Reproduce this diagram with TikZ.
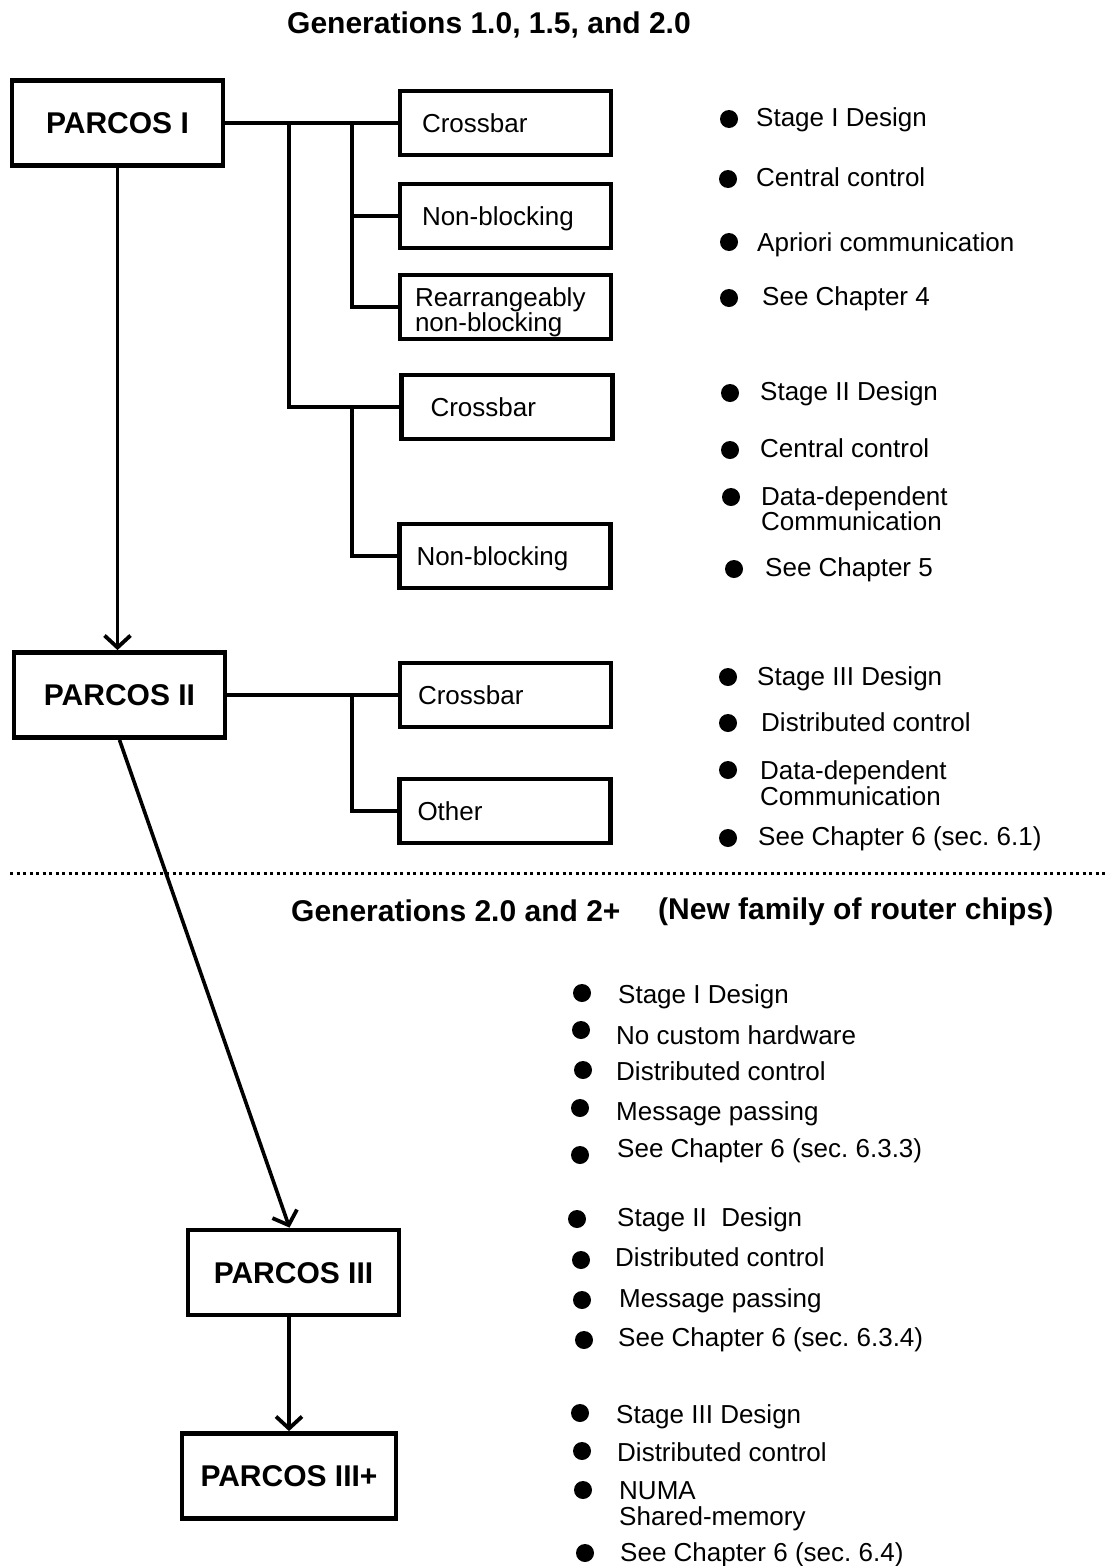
\documentclass[tikz,border=0pt]{standalone}
\usepackage{fontspec}
\setmainfont{Liberation Sans}
\usetikzlibrary{arrows.meta,calc}
\frenchspacing
% bullet item: name, dot x, dot y, text x, cap-centre y, text
\newcommand\bitem[6]{%
  \node[bulletdot] (#1d) at (#2,#3) {};
  \node[itemtext] (#1) at (#4,{#5+9.3}) {#6};}
\begin{document}
\begin{tikzpicture}[x=1pt,y=-1pt,
  headtext/.style={anchor=base west, inner sep=0pt, font=\bfseries\fontsize{30}{30}\selectfont},
  mainbox/.style={draw, line width=4.8pt, minimum width=211pt, minimum height=85pt,
    inner sep=0pt, font=\bfseries\fontsize{30}{30}\selectfont, text height=21.5pt, text depth=0pt},
  subbox/.style={draw, line width=4.8pt, minimum height=64pt, text width=167pt,
    inner xsep=22pt, inner ysep=0pt, align=left, font=\fontsize{26}{24}\selectfont,
    text height=18.7pt, text depth=0pt},
  linkline/.style={line width=3.6pt, line join=miter},
  arrowline/.style={line width=3.6pt, -{Straight Barb[length=12pt,width=26pt,line width=3.8pt]}},
  itemtext/.style={anchor=base west, inner sep=0pt, font=\fontsize{26}{25}\selectfont},
  bulletdot/.style={fill, circle, minimum size=18pt, inner sep=0pt}]
\useasboundingbox (0,0) rectangle (1106,1566);

% ---------- upper part: generations 1.0, 1.5, 2.0 ----------
\node[headtext] (title1) at (287,33) {Generations 1.0, 1.5, and 2.0};

\node[mainbox] (p1) at (117.5,123) {PARCOS I};
\node[subbox] (cb1) at (505.5,123) {Crossbar};
\node[subbox] (nb1) at (505.5,216) {Non-blocking};
\node[subbox, inner xsep=15pt, text width=181pt, text height=18.7pt, text depth=20pt] (rb) at (505.5,307) {Rearrangeably\\non-blocking};
\node[subbox, inner xsep=29pt, text width=153pt] (cb2) at (507,407) {Crossbar};
\node[subbox, inner xsep=17pt, text width=177pt] (nb2) at (505,556) {Non-blocking};

\coordinate (j1) at (289,123);
\coordinate (j2) at (352,123);
\coordinate (j3) at (352,407);
\draw[linkline] (p1.east) -- (cb1.west);
\draw[linkline] (j1) |- (cb2.west);
\draw[linkline] (j2) |- (nb1.west);
\draw[linkline] (j2) |- (rb.west);
\draw[linkline] (j3) |- (nb2.west);

\node[mainbox] (p2) at (119.5,695) {PARCOS II};
\node[subbox, inner xsep=18pt, text width=175pt] (cb3) at (505.5,695) {Crossbar};
\node[subbox, inner xsep=18pt, text width=175pt] (oth) at (505,811) {Other};
\coordinate (j4) at (352,695);
\draw[linkline] (p2.east) -- (cb3.west);
\draw[linkline] (j4) |- (oth.west);

\draw[arrowline] (p1.south) -- (p1.south |- p2.north);

\bitem{a1}{729}{119}{756}{117}{Stage I Design}
\bitem{a2}{728}{179}{756}{177}{Central control}
\bitem{a3}{729}{242}{757}{242}{Apriori communication}
\bitem{a4}{729}{298}{762}{296}{See Chapter 4}

\bitem{b1}{730}{393}{760}{391}{Stage II Design}
\bitem{b2}{730}{450}{760}{448}{Central control}
\bitem{b3}{731}{497}{761}{496}{Data-dependent}
\node[itemtext] (b3b) at (761,{521+9.3}) {Communication};
\bitem{b4}{734}{569}{765}{567}{See Chapter 5}

\bitem{c1}{728}{677}{757}{676}{Stage III Design}
\bitem{c2}{728}{723}{761}{722}{Distributed control}
\bitem{c3}{728}{770}{760}{770}{Data-dependent}
\node[itemtext] (c3b) at (760,{796+9.3}) {Communication};
\bitem{c4}{728}{838}{758}{836}{See Chapter 6 (sec. 6.1)}

% ---------- separator ----------
\draw[line width=3pt, dash pattern=on 3pt off 3.5pt] (10,873) -- (1106,873);

% ---------- lower part: generations 2.0 and 2+ ----------
\node[headtext] (title2) at (291,921) {Generations 2.0 and 2+};
\node[headtext] (title3) at (658,919) {(New family of router chips)};

\node[mainbox] (p3) at (293.5,1272.5) {PARCOS III};
\node[mainbox, minimum width=214pt] (p3p) at (289,1476) {PARCOS III+};

\draw[arrowline] (p2.south) -- ($(p3.north)+(-4,0)$);
\draw[arrowline] (p3.south -| p3p.north) -- (p3p.north);

\bitem{d1}{582}{993}{618}{994}{Stage I Design}
\bitem{d2}{581}{1030}{616}{1035}{No custom hardware}
\bitem{d3}{583}{1070}{616}{1071}{Distributed control}
\bitem{d4}{580}{1108}{616}{1111}{Message passing}
\bitem{d5}{580}{1155}{617}{1148}{See Chapter 6 (sec. 6.3.3)}

\bitem{e1}{577}{1219}{617}{1217}{Stage II\ \ Design}
\bitem{e2}{581}{1260}{615}{1257}{Distributed control}
\bitem{e3}{582}{1300}{619}{1298}{Message passing}
\bitem{e4}{584}{1340}{618}{1337}{See Chapter 6 (sec. 6.3.4)}

\bitem{f1}{580}{1413}{616}{1414}{Stage III Design}
\bitem{f2}{582}{1451}{617}{1452}{Distributed control}
\bitem{f3}{583}{1490}{619}{1490}{NUMA}
\node[itemtext] (f3b) at (619,{1516+9.3}) {Shared-memory};
\bitem{f4}{585}{1553}{620}{1552}{See Chapter 6 (sec. 6.4)}
\end{tikzpicture}
\end{document}
